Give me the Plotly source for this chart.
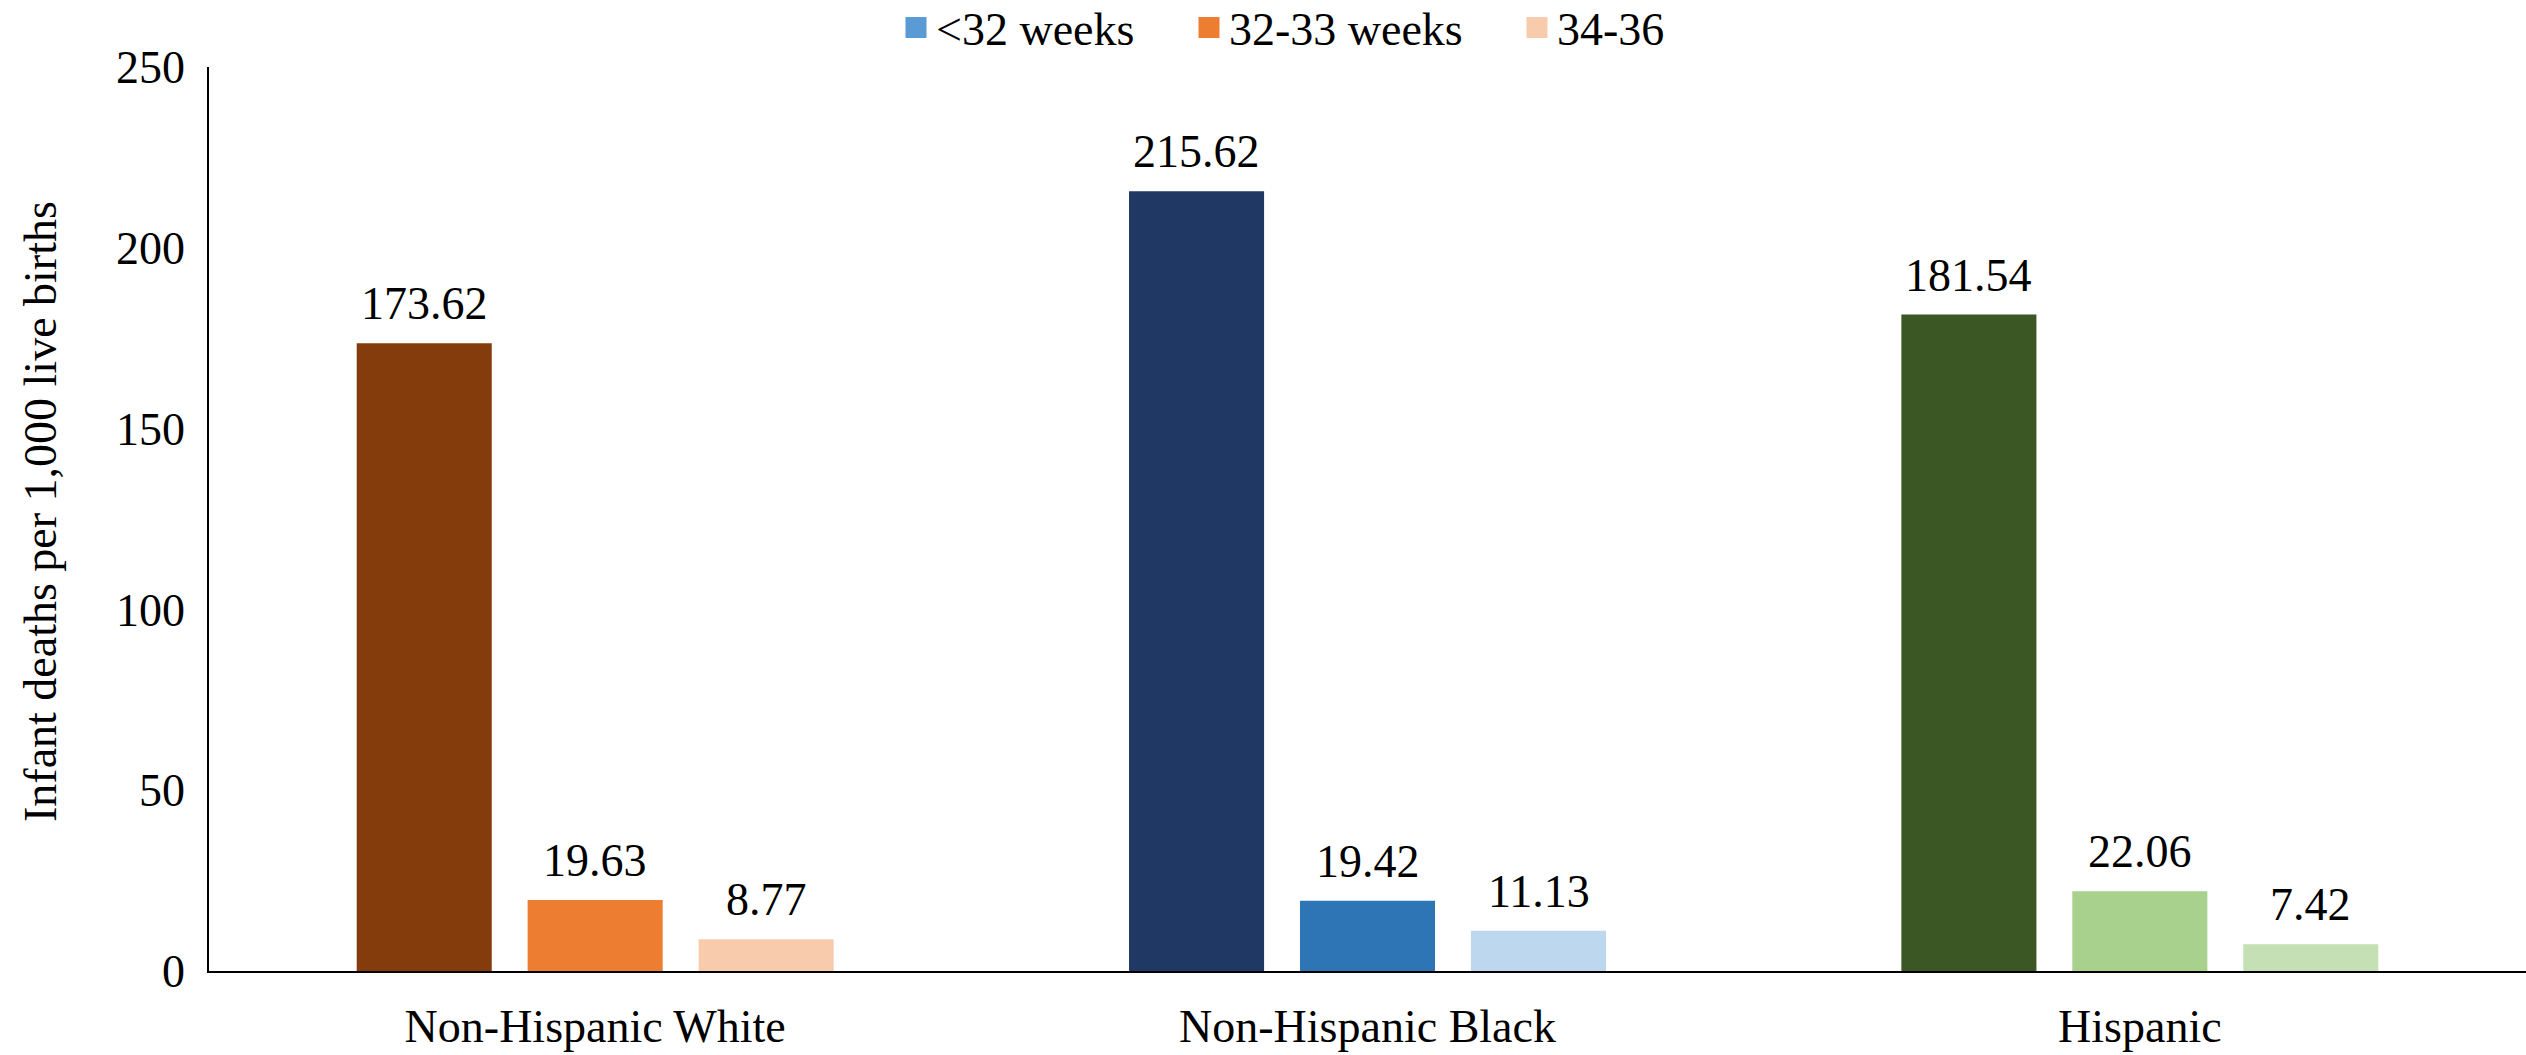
import plotly.graph_objects as go

# Groups and gestational-age series
groups = ["Non-Hispanic White", "Non-Hispanic Black", "Hispanic"]
series_names = ["<32 weeks", "32-33 weeks", "34-36"]

under_32 = [173.62, 215.62, 181.54]
weeks_32_33 = [19.63, 19.42, 22.06]
weeks_34_36 = [8.77, 11.13, 7.42]

y_ticks = [0, 50, 100, 150, 200, 250]
y_title = "Infant deaths per 1,000 live births"

# Per-group shades (dark / mid / light) for each series
shades_under_32 = ["#843C0C", "#203864", "#3A5724"]
shades_32_33 = ["#ED7D31", "#2E75B6", "#A9D18E"]
shades_34_36 = ["#F8CBAD", "#BDD7EE", "#C5E0B4"]
legend_colors = ["#5B9BD5", "#ED7D31", "#F8CBAD"]

FONT = "'Times New Roman', 'Liberation Serif', 'DejaVu Serif', serif"
FS = 46

series_values = [under_32, weeks_32_33, weeks_34_36]
series_shades = [shades_under_32, shades_32_33, shades_34_36]

fig = go.Figure()

for name, vals, cols in zip(series_names, series_values, series_shades):
    fig.add_trace(go.Bar(
        x=groups, y=vals, name=name,
        marker=dict(color=cols, line=dict(width=0)),
        showlegend=False,
        hoverinfo="x+y+name",
    ))

# Legend swatches, one legend per series
legend_keys = ["legend", "legend2", "legend3"]
for name, col, key in zip(series_names, legend_colors, legend_keys):
    fig.add_trace(go.Scatter(
        x=[None], y=[None], mode="markers", name=name,
        marker=dict(symbol="square", size=23, color=col,
                    line=dict(color=col, width=6)),
        showlegend=True, legend=key,
    ))

# Value labels above each bar
offsets = [-171, 0, 171]
annotations = []
for vals, dx in zip(series_values, offsets):
    for g, v in zip(groups, vals):
        annotations.append(dict(
            x=g, y=v, xref="x", yref="y", text=f"{v:.2f}",
            showarrow=False, xshift=dx, yshift=12, yanchor="bottom",
            font=dict(family=FONT, size=FS, color="#000000"),
        ))

W, H = 2526, 1055
ML, MT, MB = 209, 67, 84
plot_w = W - ML
plot_h = H - MT - MB

# Rotated y-axis title
annotations.append(dict(
    text=y_title, xref="paper", yref="paper",
    x=(40 - ML) / plot_w, y=(H - MB - 512) / plot_h,
    xanchor="center", yanchor="middle", textangle=-90, showarrow=False,
    font=dict(family=FONT, size=FS, color="#000000"),
))

legend_px = [896, 1189, 1517]
leg_common = dict(
    orientation="h", xref="container", yref="container",
    xanchor="left", yanchor="middle", y=1 - 27.5 / H,
    font=dict(family=FONT, size=FS, color="#000000"),
    bgcolor="rgba(0,0,0,0)", borderwidth=0,
)

fig.update_layout(
    width=W, height=H,
    margin=dict(l=ML, r=0, t=MT, b=MB, autoexpand=False),
    paper_bgcolor="white", plot_bgcolor="white",
    barmode="group", bargap=0.336, bargroupgap=0.21,
    font=dict(family=FONT, size=FS, color="#000000"),
    annotations=annotations,
    legend=dict(x=legend_px[0] / W, **leg_common),
    legend2=dict(x=legend_px[1] / W, **leg_common),
    legend3=dict(x=legend_px[2] / W, **leg_common),
    xaxis=dict(
        showline=True, linecolor="#000000", linewidth=2,
        ticks="", showgrid=False, zeroline=False,
        tickfont=dict(family=FONT, size=FS, color="#000000"),
        ticklabelstandoff=14,
    ),
    yaxis=dict(
        range=[0, 250], tickvals=y_ticks,
        showline=True, linecolor="#000000", linewidth=1.5,
        ticks="", showgrid=False, zeroline=False,
        tickfont=dict(family=FONT, size=FS, color="#000000"),
        ticklabelstandoff=13,
    ),
)

fig.write_html("out.html")
